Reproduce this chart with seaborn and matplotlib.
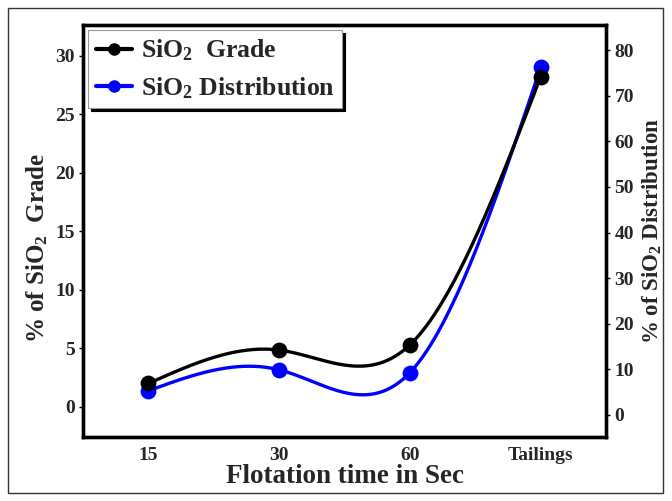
import numpy as np
import pandas as pd
import seaborn as sns
import matplotlib
matplotlib.use("Agg")
import matplotlib.pyplot as plt
from matplotlib.patches import Rectangle
from matplotlib.lines import Line2D

categories = ["15", "30", "60", "Tailings"]
grade = [2.0, 4.85, 5.3, 28.2]
distribution = [5.3, 9.9, 9.3, 76.3]

sns.set_theme(style="white")
plt.rcParams['font.family'] = ['Liberation Serif', 'DejaVu Serif']
plt.rcParams['font.weight'] = 'bold'
plt.rcParams['mathtext.fontset'] = 'custom'
plt.rcParams['mathtext.rm'] = 'Liberation Serif:bold'
plt.rcParams['mathtext.it'] = 'Liberation Serif:bold'
plt.rcParams['mathtext.bf'] = 'Liberation Serif:bold'


def natural_spline(x, y, n=200):
    x = np.asarray(x, float); y = np.asarray(y, float)
    k = len(x)
    h = np.diff(x)
    A = np.zeros((k, k)); b = np.zeros(k)
    A[0, 0] = 1; A[-1, -1] = 1
    for i in range(1, k - 1):
        A[i, i - 1] = h[i - 1]; A[i, i] = 2 * (h[i - 1] + h[i]); A[i, i + 1] = h[i]
        b[i] = 3 * ((y[i + 1] - y[i]) / h[i] - (y[i] - y[i - 1]) / h[i - 1])
    c = np.linalg.solve(A, b)
    xs = np.linspace(x[0], x[-1], n)
    ys = np.empty_like(xs)
    for j, xv in enumerate(xs):
        i = min(np.searchsorted(x, xv, side='right') - 1, k - 2)
        dx = xv - x[i]
        bi = (y[i + 1] - y[i]) / h[i] - h[i] * (2 * c[i] + c[i + 1]) / 3
        di = (c[i + 1] - c[i]) / (3 * h[i])
        ys[j] = y[i] + bi * dx + c[i] * dx ** 2 + di * dx ** 3
    return xs, ys


df = pd.DataFrame({"pos": np.arange(len(categories)), "cat": categories,
                   "grade": grade, "dist": distribution})

fig = plt.figure(figsize=(6.72, 5.01), dpi=100)
ax = fig.add_axes([0.1235, 0.128, 0.7785, 0.822])
ax2 = ax.twinx()

xs, ys = natural_spline(df["pos"], df["grade"])
ax.plot(xs, ys, color='black', lw=2.4, zorder=3)
sns.scatterplot(data=df, x="pos", y="grade", ax=ax, color='black', s=130,
                edgecolor='black', linewidth=0, zorder=4, legend=False)

xs2, ys2 = natural_spline(df["pos"], df["dist"])
ax2.plot(xs2, ys2, color='#0000ff', lw=2.4, zorder=3)
sns.scatterplot(data=df, x="pos", y="dist", ax=ax2, color='#0000ff', s=130,
                edgecolor='#0000ff', linewidth=0, zorder=4, legend=False)

ax.set_xlim(-0.5, 3.5)
ax.set_ylim(-2.56, 32.6)
ax2.set_ylim(-4.8, 85.5)
ax.set_xticks(df["pos"])
ax.set_xticklabels(categories)
ax.set_yticks(np.arange(0, 31, 5))
ax2.set_yticks(np.arange(0, 81, 10))

for a in (ax, ax2):
    for s in a.spines.values():
        s.set_linewidth(2.4)
        s.set_color('black')
    a.tick_params(labelsize=14, length=3, width=1, color='black', pad=3)
    for lab in a.get_xticklabels() + a.get_yticklabels():
        lab.set_fontweight('bold')

ax.tick_params(axis='x', length=0, pad=7)
ax.set_xlabel("Flotation time in Sec", fontsize=19.5, fontweight='bold', labelpad=0)
ax.set_ylabel("% of SiO$_2$  Grade", fontsize=18, fontweight='bold')
ax.yaxis.set_label_coords(-0.063, 0.459)
ax2.set_ylabel("% of SiO$_2$ Distribution", fontsize=16.5, fontweight='bold', labelpad=5)
ax.set_zorder(ax2.get_zorder() + 1)
ax.patch.set_visible(False)

handles = [Line2D([], [], color='black', lw=3, marker='o', markersize=8),
           Line2D([], [], color='#0000ff', lw=3, marker='o', markersize=8)]
leg = ax.legend(handles, ["SiO$_2$  Grade", "SiO$_2$ Distribution"],
                loc='upper left', bbox_to_anchor=(0.0, 1.0), fontsize=18.5,
                frameon=True, fancybox=False, shadow={'color': 'black', 'alpha': 1},
                handlelength=1.4, handletextpad=0.35, borderpad=0.3,
                labelspacing=0.45, borderaxespad=0.2)
leg.get_frame().set_edgecolor('#999999')
leg.get_frame().set_linewidth(0.8)
for t in leg.get_texts():
    t.set_fontweight('bold')

fig.patches.append(Rectangle((8 / 672, 8 / 501), 655 / 672, 485 / 501,
                             transform=fig.transFigure, fill=False,
                             edgecolor='#333333', lw=1.0))

fig.savefig("out.png", dpi=100)
